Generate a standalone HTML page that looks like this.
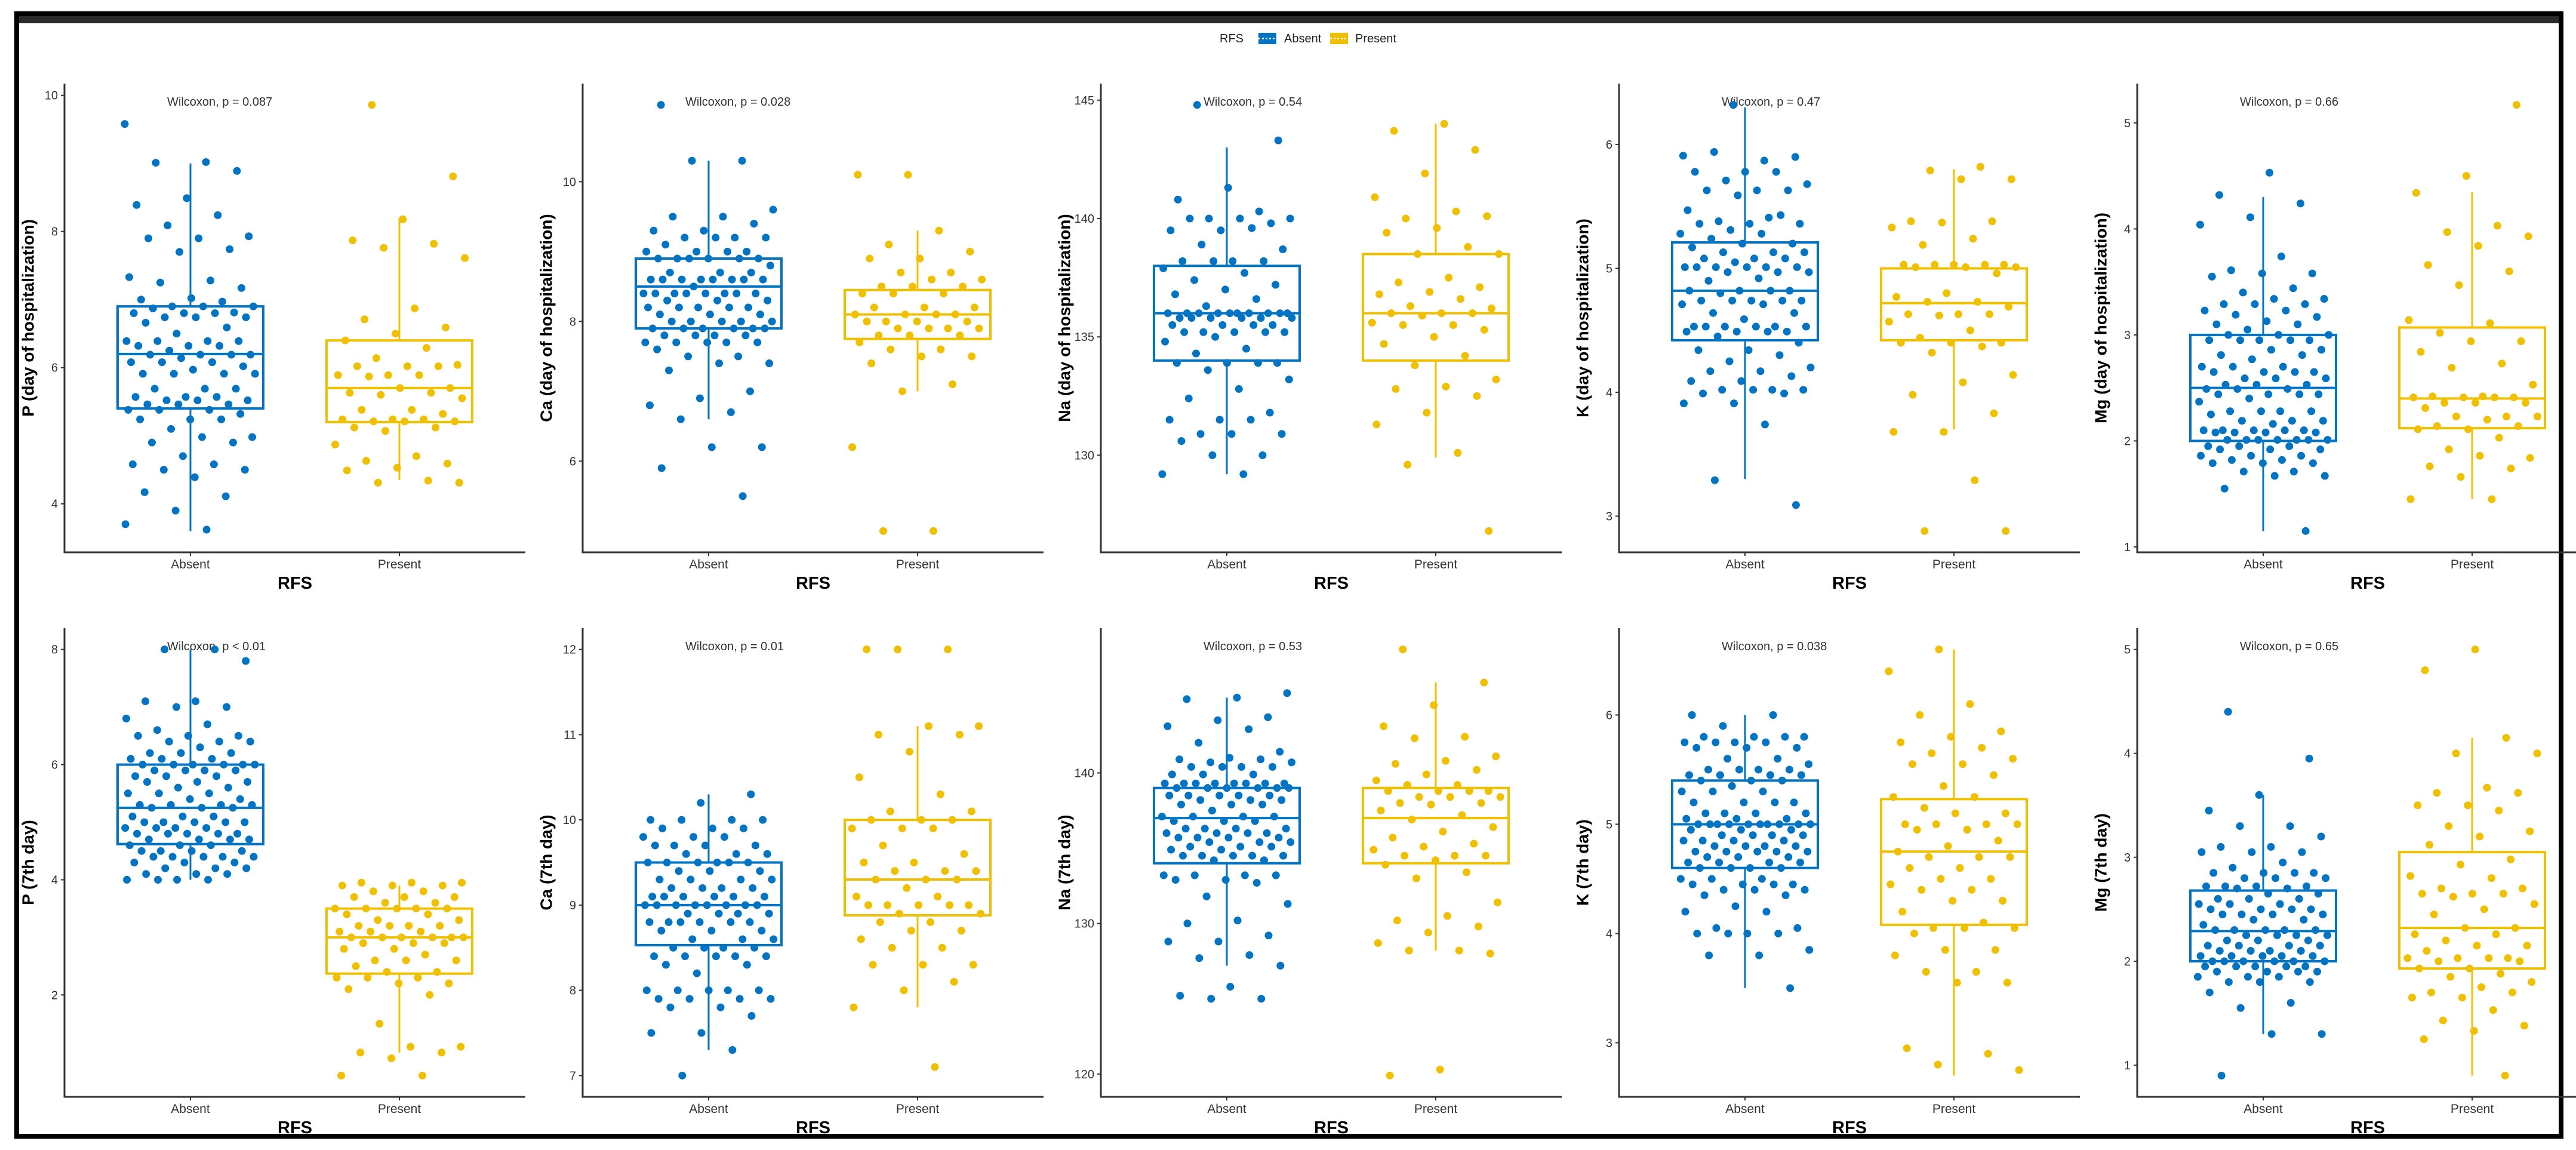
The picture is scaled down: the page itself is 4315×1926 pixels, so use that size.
<!DOCTYPE html>
<html><head><meta charset="utf-8"><style>
html,body{margin:0;padding:0;background:#fff;}
svg{display:block;font-family:"Liberation Sans",Arial,sans-serif;}
</style></head><body>
<svg id="chart" width="4315" height="1926" viewBox="0 0 4315 1926" xmlns="http://www.w3.org/2000/svg">
<rect x="0" y="0" width="4315" height="1926" fill="#fff"/>
<g>
<rect x="24" y="19" width="4266" height="8" fill="#000"/>
<rect x="24" y="27" width="4266" height="12" fill="#2a2a2a"/>
<rect x="24" y="19" width="8" height="1888" fill="#000"/>
<rect x="4286" y="19" width="8" height="1888" fill="#000"/>
<rect x="24" y="1899" width="4270" height="8" fill="#000"/>
</g>
<g>
<text x="2043" y="71" font-size="20" fill="#222">RFS</text>
<g>
<rect x="2108" y="55" width="30" height="19" fill="#0073C2"/>
<line x1="2108" y1="64.5" x2="2138" y2="64.5" stroke="#fff" stroke-width="2" stroke-dasharray="3 3"/>
<text x="2151" y="71" font-size="20" fill="#222">Absent</text></g>
<g>
<rect x="2228" y="55" width="30" height="19" fill="#EFC000"/>
<line x1="2228" y1="64.5" x2="2258" y2="64.5" stroke="#fff" stroke-width="2" stroke-dasharray="3 3"/>
<text x="2270" y="71" font-size="20" fill="#222">Present</text></g>
</g>
<g id="panels"></g>
</svg>
<script>
// ---------- data ----------
const groups = ["Absent","Present"];
const yTitles = ["P (day of hospitalization)","Ca (day of hospitalization)","Na (day of hospitalization)","K (day of hospitalization)","Mg (day of hospitalization)","P (7th day)","Ca (7th day)","Na (7th day)","K (7th day)","Mg (7th day)"];
const pLabels = ["Wilcoxon, p = 0.087","Wilcoxon, p = 0.028","Wilcoxon, p = 0.54","Wilcoxon, p = 0.47","Wilcoxon, p = 0.66","Wilcoxon, p < 0.01","Wilcoxon, p = 0.01","Wilcoxon, p = 0.53","Wilcoxon, p = 0.038","Wilcoxon, p = 0.65"];
const ticks1=[4,6,8,10], ticks2=[6,8,10], ticks3=[130,135,140,145], ticks4=[3,4,5,6], ticks5=[1,2,3,4,5];
const ticks6=[2,4,6,8], ticks7=[7,8,9,10,11,12], ticks8=[120,130,140], ticks9=[3,4,5,6], ticks10=[1,2,3,4,5];
// box stats: [whiskerLow, Q1, median, Q3, whiskerHigh]
const box1A=[3.6,5.4,6.2,6.9,9.0], box1P=[4.35,5.2,5.7,6.4,8.2];
const box2A=[6.6,7.9,8.5,8.9,10.3], box2P=[7.0,7.75,8.1,8.45,9.3];
const box3A=[129.2,134,136,138,143], box3P=[129.9,134,136,138.5,144];
const box4A=[3.3,4.42,4.82,5.21,6.3], box4P=[3.7,4.42,4.72,5.0,5.8];
const box5A=[1.15,2.0,2.5,3.0,4.3], box5P=[1.45,2.12,2.4,3.07,4.35];
const box6A=[4.0,4.62,5.25,6.0,8.0], box6P=[1.0,2.37,3.0,3.5,3.9];
const box7A=[7.3,8.53,9.0,9.5,10.3], box7P=[7.8,8.88,9.3,10.0,11.1];
const box8A=[127.2,134,137,139,145], box8P=[128.2,134,137,139,146];
const box9A=[3.5,4.6,5.0,5.4,6.0], box9P=[2.7,4.08,4.75,5.23,6.6];
const box10A=[1.3,2.0,2.29,2.68,3.6], box10P=[0.9,1.93,2.32,3.05,4.15];

const pts1A=[9.58,9.02,9.01,8.89,8.49,8.39,8.24,8.09,7.93,7.9,7.9,7.74,7.7,7.33,7.28,7.25,7.17,7.02,7.0,6.97,6.9,6.9,6.9,6.87,6.81,6.8,6.8,6.8,6.74,6.74,6.74,6.66,6.59,6.5,6.39,6.39,6.39,6.39,6.32,6.32,6.32,6.25,6.19,6.19,6.19,6.19,6.14,6.08,6.08,6.08,6.02,5.97,5.91,5.91,5.91,5.91,5.69,5.69,5.69,5.57,5.57,5.57,5.52,5.52,5.52,5.46,5.46,5.46,5.38,5.38,5.38,5.32,5.24,5.24,5.24,5.1,4.98,4.98,4.9,4.9,4.7,4.58,4.58,4.5,4.5,4.39,4.17,4.11,3.9,3.7,3.62];
const pts1P=[9.86,8.81,8.18,7.87,7.82,7.76,7.61,6.87,6.71,6.59,6.5,6.4,6.29,6.14,6.04,6.02,6.02,6.02,5.89,5.89,5.89,5.87,5.7,5.7,5.63,5.63,5.6,5.55,5.38,5.38,5.32,5.24,5.24,5.24,5.21,5.21,5.21,5.12,5.12,5.07,4.87,4.7,4.63,4.59,4.53,4.49,4.34,4.31,4.31];
const pts2A=[11.1,10.3,10.3,9.6,9.5,9.5,9.4,9.3,9.3,9.2,9.2,9.2,9.2,9.1,9.0,9.0,9.0,9.0,8.9,8.9,8.9,8.9,8.9,8.9,8.8,8.7,8.7,8.7,8.6,8.6,8.6,8.6,8.6,8.6,8.6,8.6,8.5,8.4,8.4,8.4,8.4,8.4,8.4,8.4,8.4,8.3,8.3,8.3,8.2,8.2,8.2,8.2,8.2,8.1,8.1,8.1,8.0,8.0,8.0,8.0,8.0,7.9,7.9,7.9,7.9,7.9,7.9,7.8,7.8,7.8,7.8,7.7,7.7,7.7,7.7,7.7,7.6,7.5,7.5,7.4,7.4,7.3,7.0,6.9,6.8,6.7,6.6,6.2,6.2,5.9,5.5];
const pts2P=[10.1,10.1,9.3,9.1,9.0,8.9,8.9,8.7,8.7,8.6,8.6,8.5,8.5,8.5,8.4,8.4,8.4,8.2,8.2,8.2,8.1,8.1,8.1,8.1,8.0,8.0,8.0,8.0,7.9,7.9,7.9,7.9,7.8,7.8,7.8,7.7,7.6,7.6,7.5,7.5,7.4,7.1,7.0,6.2,5.0,5.0];
const pts3A=[144.8,143.3,141.3,140.8,140.3,140.0,140.0,140.0,140.0,139.8,139.5,139.5,139.6,138.9,138.7,138.2,138.2,138.2,138.2,137.9,137.7,137.4,137.2,137.0,136.8,136.6,136.3,136.0,136.0,136.0,136.0,136.0,136.0,136.0,136.0,136.0,136.0,135.8,135.8,135.8,135.8,135.8,135.8,135.5,135.5,135.5,135.5,135.2,135.2,135.2,135.2,135.2,135.0,134.8,134.5,134.3,133.9,133.9,133.9,133.9,133.6,133.2,132.8,132.4,131.8,131.5,131.5,131.5,130.9,130.9,130.9,130.6,130.0,130.0,129.2,129.2];
const pts3P=[144.0,143.7,142.9,141.9,140.9,140.3,140.0,140.1,139.6,139.4,138.8,138.5,138.5,137.5,137.3,137.1,136.9,136.8,136.6,136.3,136.2,136.0,136.0,136.0,135.9,135.6,135.5,135.5,135.3,135.0,134.7,134.2,133.8,133.2,132.9,132.8,132.5,131.8,131.3,130.1,129.6,126.8];
const pts4A=[6.32,5.91,5.87,5.94,5.9,5.78,5.78,5.78,5.71,5.68,5.63,5.63,5.63,5.59,5.47,5.41,5.38,5.36,5.36,5.36,5.43,5.31,5.28,5.28,5.24,5.2,5.2,5.17,5.13,5.13,5.13,5.08,5.08,5.08,5.05,5.01,5.01,5.01,5.01,5.01,5.01,4.97,4.97,4.97,4.92,4.9,4.82,4.82,4.82,4.82,4.8,4.74,4.74,4.74,4.74,4.74,4.71,4.71,4.64,4.64,4.59,4.53,4.53,4.53,4.53,4.53,4.53,4.49,4.49,4.49,4.49,4.45,4.4,4.34,4.34,4.3,4.25,4.2,4.17,4.17,4.13,4.09,4.09,4.02,4.02,4.02,4.02,3.99,3.99,3.91,3.91,3.74,3.29,3.09];
const pts4P=[5.82,5.79,5.72,5.72,5.38,5.38,5.37,5.33,5.24,5.19,5.03,5.03,5.03,5.03,5.03,5.01,5.01,5.01,4.96,4.8,4.77,4.73,4.73,4.69,4.63,4.63,4.63,4.62,4.57,4.5,4.44,4.4,4.4,4.4,4.37,4.32,4.14,4.08,3.98,3.83,3.68,3.68,3.29,2.88,2.88];
const pts5A=[4.53,4.32,4.24,4.11,4.04,3.74,3.61,3.58,3.58,3.55,3.44,3.4,3.34,3.34,3.29,3.29,3.29,3.23,3.23,3.19,3.17,3.13,3.1,3.1,3.05,3.0,3.0,3.0,2.95,2.95,2.95,2.95,2.95,2.86,2.86,2.81,2.81,2.77,2.7,2.7,2.7,2.65,2.65,2.65,2.65,2.59,2.59,2.59,2.53,2.53,2.53,2.49,2.49,2.49,2.44,2.44,2.44,2.44,2.4,2.37,2.28,2.28,2.28,2.28,2.25,2.19,2.19,2.19,2.16,2.1,2.1,2.1,2.1,2.1,2.08,2.08,2.08,2.08,2.01,2.01,2.01,2.01,2.01,2.01,2.01,1.95,1.95,1.95,1.92,1.92,1.92,1.86,1.86,1.86,1.82,1.82,1.79,1.79,1.79,1.71,1.71,1.67,1.67,1.55,1.15];
const pts5P=[5.17,4.5,4.34,4.03,3.97,3.93,3.84,3.66,3.6,3.47,3.14,3.11,3.02,2.94,2.94,2.84,2.73,2.69,2.53,2.42,2.42,2.41,2.41,2.41,2.41,2.36,2.36,2.36,2.31,2.23,2.23,2.23,2.2,2.14,2.14,2.11,2.11,2.03,1.92,1.84,1.86,1.76,1.74,1.66,1.45,1.45];
const pts6A=[8.0,8.0,7.8,7.1,7.1,7.0,7.0,6.8,6.7,6.6,6.5,6.5,6.5,6.4,6.4,6.4,6.3,6.2,6.2,6.2,6.1,6.1,6.1,6.0,6.0,6.0,6.0,6.0,6.0,5.9,5.9,5.9,5.9,5.8,5.8,5.8,5.7,5.7,5.7,5.6,5.6,5.5,5.5,5.5,5.4,5.4,5.3,5.3,5.3,5.3,5.25,5.25,5.25,5.1,5.1,5.1,5.0,5.0,5.0,5.0,5.0,4.9,4.9,4.9,4.9,4.8,4.8,4.8,4.8,4.8,4.7,4.7,4.7,4.7,4.6,4.6,4.6,4.5,4.5,4.5,4.5,4.4,4.4,4.4,4.4,4.4,4.3,4.3,4.3,4.2,4.2,4.2,4.1,4.1,4.1,4.0,4.0,4.0,4.0];
const pts6P=[3.95,3.95,3.95,3.9,3.9,3.9,3.8,3.8,3.7,3.7,3.7,3.6,3.6,3.5,3.5,3.5,3.5,3.5,3.4,3.4,3.3,3.3,3.2,3.2,3.2,3.2,3.1,3.1,3.1,3.0,3.0,3.0,3.0,3.0,3.0,2.9,2.9,2.9,2.8,2.8,2.7,2.6,2.6,2.6,2.5,2.4,2.4,2.3,2.3,2.3,2.2,2.2,2.1,2.0,1.5,1.1,1.1,1.0,1.0,0.9,0.6,0.6];
const pts7A=[10.3,10.2,10.0,10.0,10.0,10.0,9.9,9.9,9.9,9.8,9.8,9.8,9.7,9.7,9.7,9.7,9.6,9.6,9.6,9.5,9.5,9.5,9.5,9.5,9.5,9.4,9.4,9.4,9.3,9.3,9.3,9.3,9.2,9.2,9.2,9.2,9.1,9.1,9.1,9.1,9.1,9.1,9.0,9.0,9.0,9.0,9.0,9.0,9.0,9.0,8.9,8.9,8.9,8.9,8.8,8.8,8.8,8.8,8.8,8.8,8.7,8.7,8.7,8.6,8.6,8.6,8.5,8.5,8.5,8.5,8.4,8.4,8.4,8.4,8.4,8.3,8.3,8.2,8.0,8.0,8.0,8.0,8.0,7.9,7.9,7.9,7.9,7.8,7.8,7.7,7.5,7.5,7.3,7.0];
const pts7P=[12.0,12.0,12.0,11.1,11.1,11.0,11.0,10.8,10.5,10.3,10.1,10.1,10.0,10.0,10.0,9.9,9.9,9.9,9.7,9.6,9.5,9.5,9.4,9.4,9.4,9.3,9.3,9.3,9.2,9.1,9.1,9.0,9.0,9.0,9.0,9.0,8.9,8.9,8.8,8.8,8.7,8.7,8.6,8.5,8.5,8.3,8.3,8.3,8.1,8.0,7.8,7.1];
const pts8A=[145.3,145.0,144.9,143.7,143.5,143.1,142.9,142.0,141.4,141.0,140.9,140.9,140.7,140.7,140.4,140.4,140.4,140.4,139.9,139.9,139.9,139.3,139.3,139.3,139.3,139.3,139.3,139.3,139.3,139.0,139.0,139.0,139.0,139.0,139.0,138.5,138.5,138.5,138.5,138.5,138.2,138.2,138.2,137.9,137.9,137.9,137.5,137.1,137.1,137.1,137.1,136.8,136.8,136.8,136.3,136.3,136.3,136.3,136.0,136.0,136.0,136.0,135.7,135.7,135.7,135.7,135.4,135.4,135.4,135.1,135.1,135.1,134.9,134.9,134.5,134.5,134.5,134.5,134.5,134.2,134.2,133.2,133.2,133.2,133.2,132.9,132.9,132.7,131.8,131.3,130.2,130.0,129.2,128.8,128.8,127.9,127.7,127.2,125.8,125.2,125.0,125.0];
const pts8P=[148.2,146.0,144.5,143.1,142.4,142.3,141.1,140.8,140.6,140.2,139.9,139.5,139.2,139.2,138.8,138.8,138.8,138.8,138.4,138.4,138.4,138.0,138.0,137.9,137.5,137.2,136.9,136.4,136.1,135.7,135.3,135.1,134.9,134.5,134.5,134.5,134.2,133.9,133.4,133.0,131.4,130.5,130.2,129.8,129.4,128.7,128.2,128.2,128.0,120.3,119.9];
const pts9A=[6.0,6.0,5.9,5.8,5.8,5.8,5.8,5.75,5.75,5.75,5.75,5.7,5.7,5.7,5.6,5.6,5.55,5.5,5.5,5.5,5.5,5.45,5.45,5.45,5.45,5.4,5.4,5.4,5.35,5.3,5.3,5.3,5.2,5.2,5.2,5.2,5.1,5.1,5.1,5.1,5.05,5.05,5.05,5.0,5.0,5.0,5.0,5.0,5.0,5.0,5.0,5.0,5.0,4.95,4.95,4.95,4.9,4.9,4.9,4.9,4.85,4.85,4.85,4.85,4.8,4.8,4.8,4.8,4.75,4.75,4.75,4.75,4.75,4.7,4.7,4.7,4.65,4.65,4.65,4.65,4.6,4.6,4.6,4.6,4.5,4.5,4.5,4.45,4.45,4.45,4.45,4.4,4.4,4.4,4.35,4.35,4.25,4.2,4.2,4.05,4.05,4.0,4.0,4.0,4.0,3.85,3.8,3.8,3.5];
const pts9P=[6.6,6.4,6.1,6.0,5.85,5.8,5.75,5.7,5.65,5.6,5.55,5.55,5.45,5.35,5.25,5.25,5.15,5.1,5.1,5.0,5.0,5.0,5.0,4.95,4.95,4.85,4.8,4.75,4.7,4.7,4.7,4.6,4.6,4.5,4.5,4.45,4.4,4.4,4.3,4.3,4.2,4.1,4.05,4.05,4.05,4.0,3.85,3.85,3.8,3.65,3.65,3.55,3.55,2.95,2.9,2.8,2.75];
const pts10A=[4.4,3.95,3.6,3.45,3.3,3.3,3.2,3.1,3.1,3.05,3.05,3.05,2.95,2.9,2.85,2.85,2.85,2.85,2.8,2.8,2.8,2.72,2.72,2.72,2.72,2.7,2.7,2.65,2.65,2.6,2.6,2.6,2.55,2.55,2.55,2.5,2.5,2.5,2.5,2.45,2.45,2.45,2.45,2.4,2.4,2.35,2.3,2.3,2.3,2.3,2.3,2.25,2.25,2.25,2.25,2.2,2.2,2.2,2.15,2.15,2.15,2.15,2.1,2.1,2.1,2.1,2.05,2.05,2.05,2.05,2.05,2.0,2.0,2.0,2.0,2.0,2.0,1.95,1.95,1.95,1.95,1.95,1.9,1.9,1.9,1.9,1.85,1.85,1.85,1.8,1.8,1.8,1.7,1.6,1.55,1.3,1.3,0.9];
const pts10P=[5.0,4.8,4.15,4.0,4.0,3.67,3.62,3.62,3.5,3.5,3.45,3.3,3.25,3.2,3.12,2.98,2.93,2.82,2.8,2.7,2.7,2.65,2.65,2.65,2.62,2.55,2.5,2.45,2.32,2.32,2.26,2.26,2.2,2.15,2.15,2.1,2.03,2.03,2.03,2.03,2.0,2.0,1.93,1.93,1.88,1.85,1.8,1.75,1.7,1.7,1.65,1.65,1.53,1.43,1.38,1.33,1.25,0.9];

const absentSeries=[pts1A,pts2A,pts3A,pts4A,pts5A,pts6A,pts7A,pts8A,pts9A,pts10A];
const presentSeries=[pts1P,pts2P,pts3P,pts4P,pts5P,pts6P,pts7P,pts8P,pts9P,pts10P];
const absentBoxes=[box1A,box2A,box3A,box4A,box5A,box6A,box7A,box8A,box9A,box10A];
const presentBoxes=[box1P,box2P,box3P,box4P,box5P,box6P,box7P,box8P,box9P,box10P];
const tickSets=[ticks1,ticks2,ticks3,ticks4,ticks5,ticks6,ticks7,ticks8,ticks9,ticks10];

// ---------- rendering ----------
const NS="http://www.w3.org/2000/svg";
const COLORS=["#0073C2","#EFC000"];
const root=document.getElementById("panels");
function mk(tag,attrs,parent){const e=document.createElementNS(NS,tag);for(const k in attrs)e.setAttribute(k,attrs[k]);parent.appendChild(e);return e;}

for(let p=0;p<10;p++){
  const col=p%5,row=Math.floor(p/5);
  const X0=108+col*868, top=140+row*912, bottom=925+row*912, W=772;
  const g=mk("g",{},root);
  
  
  const A=absentSeries[p],P=presentSeries[p],bA=absentBoxes[p],bP=presentBoxes[p];
  const all=A.concat(P,bA,bP);
  let lo=Math.min(...all),hi=Math.max(...all);const pad=(hi-lo)*0.05;lo-=pad;hi+=pad;
  const y=v=>bottom-(v-lo)/(hi-lo)*(bottom-top);
  const xCat=i=>X0+211+i*350;
  // axes
  const ya=mk("line",{x1:X0,y1:top,x2:X0,y2:bottom+1.5,stroke:"#333",'stroke-width':3},g);
  
  
  const xa=mk("line",{x1:X0-1.5,y1:bottom,x2:X0+W,y2:bottom,stroke:"#333",'stroke-width':3},g);
  
  
  tickSets[p].forEach(t=>{
    const ty=y(t);
    mk("line",{x1:X0-6,y1:ty,x2:X0,y2:ty,stroke:"#333",'stroke-width':2},g);
    const tl=mk("text",{x:X0-11,y:ty+7,'font-size':20,'text-anchor':'end',fill:'#333'},g);
    
    
    tl.textContent=String(t);
  });
  groups.forEach((gname,i)=>{
    mk("line",{x1:xCat(i),y1:bottom,x2:xCat(i),y2:bottom+6,stroke:"#333",'stroke-width':2},g);
    const xl=mk("text",{x:xCat(i),y:bottom+27,'font-size':21,'text-anchor':'middle',fill:'#333'},g);
    
    
    xl.textContent=gname;
  });
  const xt=mk("text",{x:X0+386,y:bottom+61,'font-size':29,'font-weight':'bold','text-anchor':'middle',fill:'#000'},g);
  
  
  xt.textContent="RFS";
  const cy=(top+bottom)/2;
  const yt=mk("text",{x:X0-59,y:cy,'font-size':28,'font-weight':'bold','text-anchor':'middle',fill:'#000',transform:`rotate(-90 ${X0-59} ${cy})`,'dominant-baseline':'middle'},g);
  
  
  yt.textContent=yTitles[p];
  const pl=mk("text",{x:X0+172,y:top+37,'font-size':20,fill:'#333'},g);
  
  
  pl.textContent=pLabels[p];
  // boxes
  [bA,bP].forEach((b,i)=>{
    const c=COLORS[i],cx=xCat(i);
    const bg=mk("g",{},g);
    
    
    mk("line",{x1:cx,y1:y(b[4]),x2:cx,y2:y(b[3]),stroke:c,'stroke-width':3},bg);
    mk("line",{x1:cx,y1:y(b[1]),x2:cx,y2:y(b[0]),stroke:c,'stroke-width':3},bg);
    mk("rect",{x:cx-122,y:y(b[3]),width:244,height:y(b[1])-y(b[3]),fill:'none',stroke:c,'stroke-width':4},bg);
    mk("line",{x1:cx-122,y1:y(b[2]),x2:cx+122,y2:y(b[2]),stroke:c,'stroke-width':4},bg);
  });
  // jittered points
  [A,P].forEach((arr,i)=>{
    const c=COLORS[i],cx=xCat(i);
    const pg=mk("g",{fill:c},g);
    
    
    arr.forEach((v,k)=>{
      const j=(((k*0.6180339+p*0.137+i*0.29)%1)-0.5)*220;
      const pt=mk("circle",{cx:cx+j,cy:y(v),r:6.5},pg);
      
      
    });
  });
}
</script>
</body></html>
